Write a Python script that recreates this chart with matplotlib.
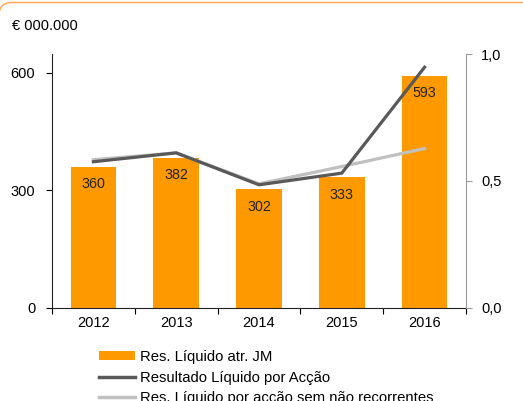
import matplotlib
matplotlib.use("Agg")
import matplotlib.pyplot as plt
from matplotlib.patches import FancyBboxPatch, Patch
from matplotlib.lines import Line2D
from matplotlib.ticker import FuncFormatter
from matplotlib.transforms import IdentityTransform

plt.rcParams["font.family"] = ["Liberation Sans", "DejaVu Sans"]

years = ["2012", "2013", "2014", "2015", "2016"]
res_liquido = [360, 382, 302, 333, 593]
rl_por_accao = [0.575, 0.61, 0.484, 0.53, 0.948]
rl_sem_nao_rec = [0.583, 0.61, 0.488, 0.556, 0.627]

ORANGE = "#FF9900"
DARK = "#595959"
LIGHT = "#C0C0C0"

W, H = 523, 401
fig = plt.figure(figsize=(W / 100, H / 100), dpi=100)

# orange rounded frame, only its top edge shows inside the picture (pixel coords)
frame = FancyBboxPatch((-1, -60), W + 40, H + 60 - 2.5,
                       boxstyle="round,pad=0,rounding_size=13",
                       transform=IdentityTransform(), fill=False,
                       edgecolor="#FFA64D", linewidth=1.0)
fig.patches.append(frame)

ax = fig.add_axes([52 / W, 1 - 307.5 / H, (466 - 52) / W, (307.5 - 54) / H])
x = list(range(len(years)))
ax.bar(x, res_liquido, width=0.55, color=ORANGE, zorder=2)
for xi, v in zip(x, res_liquido):
    ax.annotate(str(v), (xi, v), xytext=(0, -12.5), textcoords="offset points",
                ha="center", va="center", fontsize=10.3, color="#222222", zorder=5)

ax.set_xlim(-0.5, len(years) - 0.5)
ax.set_ylim(0, 648)
ax.set_yticks([0, 300, 600])
ax.tick_params(axis="y", direction="out", length=4, labelsize=10.5, pad=8)
ax.set_xticks([i - 0.5 for i in range(len(years) + 1)])
ax.set_xticklabels([])
ax.set_xticks(x, minor=True)
ax.set_xticklabels(years, minor=True)
ax.tick_params(axis="x", which="major", direction="out", length=4)
ax.tick_params(axis="x", which="minor", length=0, labelsize=10.5, pad=6)
for s in ["top", "right"]:
    ax.spines[s].set_visible(False)
ax.spines["left"].set_color("#222222")
ax.spines["bottom"].set_color("#222222")

ax2 = ax.twinx()
ax2.plot(x, rl_sem_nao_rec, color=LIGHT, linewidth=2.3, zorder=3)
ax2.plot(x, rl_por_accao, color=DARK, linewidth=2.3, zorder=4)
ax2.set_ylim(0, 1.0)
ax2.set_yticks([0, 0.5, 1.0])
ax2.yaxis.set_major_formatter(FuncFormatter(lambda v, p: f"{v:.1f}".replace(".", ",")))
ax2.tick_params(axis="y", direction="out", length=4, color="#999999",
                labelsize=10.5, pad=7)
for s in ["top", "left", "bottom"]:
    ax2.spines[s].set_visible(False)
ax2.spines["right"].set_color("#999999")
ax.set_zorder(ax2.get_zorder() - 1)
ax2.patch.set_visible(False)

fig.text(12 / W, 1 - 26 / H, "€ 000.000", fontsize=10.5, va="center", ha="left")

handles = [
    Patch(facecolor=ORANGE, edgecolor="none"),
    Line2D([], [], color=DARK, linewidth=2.5),
    Line2D([], [], color=LIGHT, linewidth=2.5),
]
labels = ["Res. Líquido atr. JM", "Resultado Líquido por Acção",
          "Res. Líquido por acção sem não recorrentes"]
fig.legend(handles, labels, loc="upper left",
           bbox_to_anchor=(93 / W, 1 - 344 / H), frameon=False,
           fontsize=10.7, handlelength=2.45, handleheight=0.55,
           handletextpad=0.3, labelspacing=0.45, borderaxespad=0)

fig.savefig("out.png", dpi=100)
